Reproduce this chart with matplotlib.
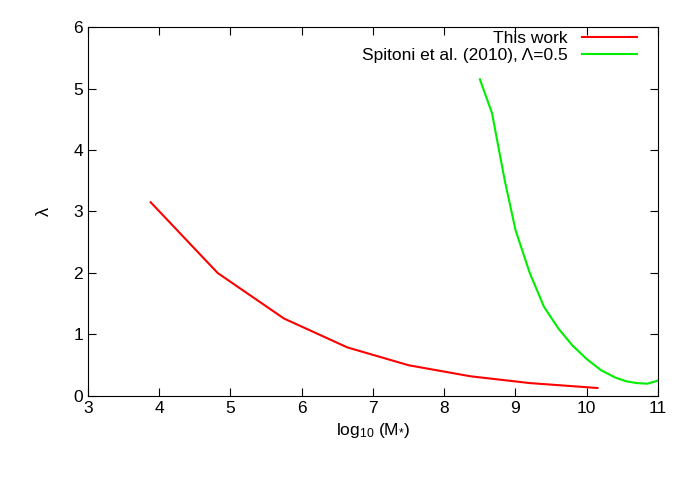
import numpy as np
import matplotlib.pyplot as plt

this_x = [3.88, 4.82, 5.75, 6.64, 7.5, 8.37, 9.2, 10.15]
this_y = [3.15, 2.0, 1.26, 0.79, 0.5, 0.32, 0.21, 0.13]

spit_x = [8.5, 8.67, 8.85, 9.0, 9.2, 9.4, 9.6, 9.8, 10.0, 10.2, 10.4, 10.55, 10.7, 10.85, 11.0]
spit_y = [5.15, 4.6, 3.5, 2.7, 2.0, 1.45, 1.1, 0.82, 0.6, 0.42, 0.3, 0.24, 0.21, 0.2, 0.25]

plt.rcParams['font.family'] = ['Liberation Sans', 'DejaVu Sans']
plt.rcParams['mathtext.default'] = 'regular'
fig = plt.figure(figsize=(7, 4.91), dpi=100)
ax = fig.add_axes([0.1257, 0.1935, 0.8143, 0.7515])

ax.plot(this_x, this_y, color='#ff0000', lw=1.5, label='This work')
ax.plot(spit_x, spit_y, color='#00ee00', lw=1.5, label='Spitoni et al. (2010), Λ=0.5')

ax.set_xlim(3, 11)
ax.set_ylim(0, 6)
ax.set_xticks(range(3, 12))
ax.set_yticks(range(0, 7))
ax.tick_params(direction='in', top=True, right=True, labelsize=12.5, length=6)
ax.set_xlabel(r'log$_{10}$ (M$_{*}$)', fontsize=12.5)
ax.set_ylabel('λ', fontsize=13, labelpad=15)

leg = ax.legend(loc='upper right', frameon=False, markerfirst=False, fontsize=12.5,
                handlelength=3.2, borderaxespad=0.1, borderpad=0.1, labelspacing=0.15,
                bbox_to_anchor=(0.97, 1.0))

fig.savefig('out.png', dpi=100)
